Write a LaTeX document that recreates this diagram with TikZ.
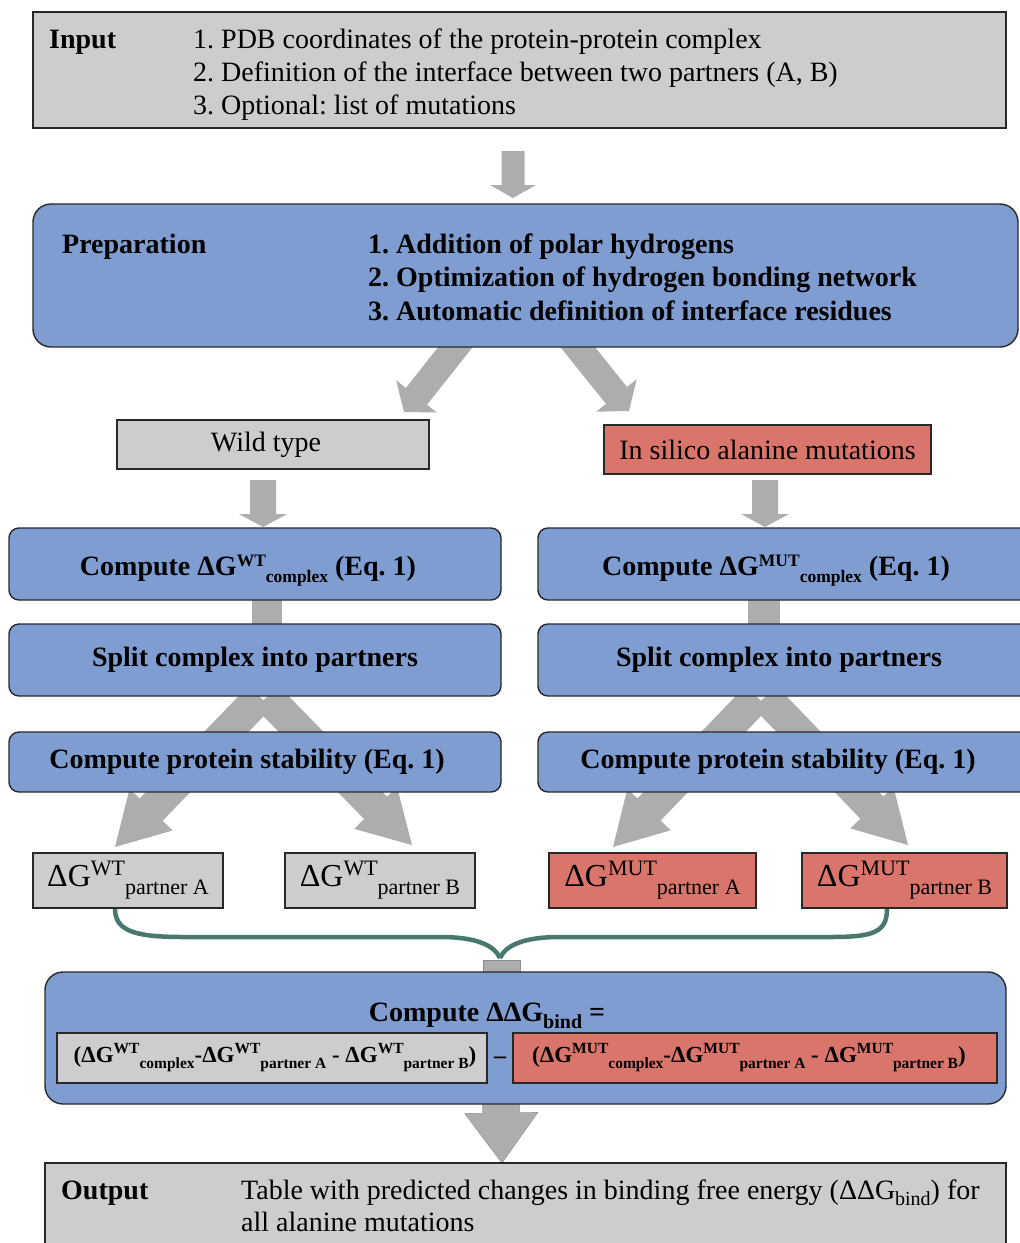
\documentclass[tikz,border=0pt]{standalone}
\usepackage{fontspec}
\setmainfont{Liberation Serif}
\usetikzlibrary{calc}
\frenchspacing
\definecolor{boxgray}{RGB}{205,205,205}
\definecolor{boxblue}{RGB}{127,157,209}
\definecolor{boxred}{RGB}{217,117,106}
\definecolor{arrgray}{RGB}{173,173,173}
\definecolor{linkteal}{RGB}{72,120,110}
\definecolor{edgecol}{RGB}{40,40,40}
\newcommand\fsz[1]{\fontsize{#1}{#1}\selectfont}
\newcommand\SupS[3]{\raisebox{#1pt}{\fsz{#2}#3}}
\newcommand\SubS[3]{\raisebox{-#1pt}{\fsz{#2}#3}}
% block arrow: [opts]{start}{end}{shaft half}{head half}{head length}
\newcommand\blockarrow[6][]{%
  \coordinate (ba-s) at (#2);
  \coordinate (ba-e) at (#3);
  \coordinate (ba-b) at ($(ba-e)!#6!(ba-s)$);
  \fill[arrgray,#1] ($(ba-s)!#4!90:(ba-e)$) -- ($(ba-b)!#4!-90:(ba-s)$) -- ($(ba-b)!#5!-90:(ba-s)$) -- (ba-e) -- ($(ba-b)!#5!90:(ba-s)$) -- ($(ba-b)!#4!90:(ba-s)$) -- ($(ba-s)!#4!-90:(ba-e)$) -- cycle;}
\tikzset{
  boxedge/.style={draw=edgecol, line width=1.4pt},
  graybox/.style={boxedge, fill=boxgray, inner sep=0pt, outer sep=0pt},
  redbox/.style={boxedge, fill=boxred, inner sep=0pt, outer sep=0pt},
  bluebox/.style={boxedge, fill=boxblue, rounded corners=10pt, inner sep=0pt, outer sep=0pt},
  bigblue/.style={bluebox, rounded corners=18pt},
  rtxt/.style={font=\fsz{28}, inner sep=0pt},
  btxt/.style={font=\fsz{28}\bfseries, inner sep=0pt},
  link/.style={draw=linkteal, line width=4.5pt},
  bar/.style={fill=arrgray},
}
\begin{document}
\begin{tikzpicture}[x=1pt,y=-1pt]
\useasboundingbox (0,0) rectangle (1020,1243);

% ---------- arrows behind boxes ----------
\coordinate (a1s) at (513,151); \coordinate (a1e) at (513,198);
\blockarrow{a1s}{a1e}{11.5pt}{23pt}{13pt}
\coordinate (a2s) at (469,330); \coordinate (a2e) at (404,412);
\blockarrow{a2s}{a2e}{13.5pt}{26pt}{20pt}
\coordinate (a3s) at (564,330); \coordinate (a3e) at (629,411);
\blockarrow{a3s}{a3e}{13.5pt}{26pt}{20pt}
\coordinate (a4s) at (263,480); \coordinate (a4e) at (263,527);
\blockarrow{a4s}{a4e}{13pt}{24pt}{13pt}
\coordinate (a5s) at (765,480); \coordinate (a5e) at (765,527);
\blockarrow{a5s}{a5e}{13pt}{24pt}{13pt}
\coordinate (l1s) at (260,697); \coordinate (l1e) at (115,847);
\blockarrow{l1s}{l1e}{16pt}{30pt}{52pt}
\coordinate (l2s) at (267,697); \coordinate (l2e) at (412,845);
\blockarrow{l2s}{l2e}{16pt}{30pt}{52pt}
\coordinate (l3s) at (757,697); \coordinate (l3e) at (613,847);
\blockarrow{l3s}{l3e}{16pt}{30pt}{52pt}
\coordinate (l4s) at (765,697); \coordinate (l4e) at (908,845);
\blockarrow{l4s}{l4e}{16pt}{30pt}{52pt}
\fill[bar] (252,598) rectangle (282,626);
\fill[bar] (748,598) rectangle (780,626);
\coordinate (a6s) at (501,1098); \coordinate (a6e) at (502,1163);
\blockarrow[draw=black!40, line width=0.6pt]{a6s}{a6e}{18.5pt}{36.5pt}{50pt}

% ---------- boxes ----------
\node[graybox, minimum width=973pt, minimum height=116pt] (input) at (519.5,70) {};
\node[btxt, anchor=base west] (inlab) at (49,48) {Input};
\node[rtxt, anchor=base west] (in1) at (193,48) {1. PDB coordinates of the protein-protein complex};
\node[rtxt, anchor=base west] (in2) at (193,81) {2. Definition of the interface between two partners (A, B)};
\node[rtxt, anchor=base west] (in3) at (193,114) {3. Optional: list of mutations};

\node[bigblue, minimum width=985pt, minimum height=143pt] (prep) at (525.5,275.5) {};
\node[btxt, anchor=base west] (preplab) at (62,253) {Preparation};
\node[btxt, anchor=base west] (p1) at (368,253) {1. Addition of polar hydrogens};
\node[btxt, anchor=base west] (p2) at (368,286) {2. Optimization of hydrogen bonding network};
\node[btxt, anchor=base west] (p3) at (368,320) {3. Automatic definition of interface residues};

\node[graybox, minimum width=312pt, minimum height=49pt, font=\fsz{28}] (wild) at (273,444.5) {\hspace*{-14pt}Wild type};
\node[redbox, minimum width=327pt, minimum height=49pt, font=\fsz{28}] (silico) at (767.5,449.5) {In silico alanine mutations};

\node[bluebox, minimum width=492pt, minimum height=72pt] (cwt) at (255,564) {};
\node[btxt, anchor=base] (cwtt) at (248,575) {Compute ΔG\SupS{9}{17.5}{WT}\SubS{7}{17.5}{complex} (Eq. 1)};
\node[bluebox, minimum width=494pt, minimum height=72pt] (cmut) at (785,564) {};
\node[btxt, anchor=base] (cmutt) at (776,575) {Compute ΔG\SupS{9}{17.5}{MUT}\SubS{7}{17.5}{complex} (Eq. 1)};

\node[bluebox, minimum width=492pt, minimum height=72pt, font=\fsz{28}\bfseries] (swt) at (255,660) {Split complex into partners};
\node[bluebox, minimum width=494pt, minimum height=72pt, font=\fsz{28}\bfseries] (smut) at (785,660) {\hspace*{-12pt}Split complex into partners};

\node[bluebox, minimum width=492pt, minimum height=60pt, font=\fsz{28}\bfseries] (stwt) at (255,762) {\hspace*{-16pt}Compute protein stability (Eq. 1)};
\node[bluebox, minimum width=494pt, minimum height=60pt, font=\fsz{28}\bfseries] (stmut) at (785,762) {\hspace*{-14pt}Compute protein stability (Eq. 1)};

\node[graybox, minimum width=190pt, minimum height=55pt, font=\fsz{32}] (wtA) at (128,880.5) {ΔG\SupS{11}{22}{WT}\SubS{8}{22}{partner A}};
\node[graybox, minimum width=190pt, minimum height=55pt, font=\fsz{32}] (wtB) at (380,880.5) {ΔG\SupS{11}{22}{WT}\SubS{8}{22}{partner B}};
\node[redbox, minimum width=207pt, minimum height=55pt, font=\fsz{32}] (mutA) at (652.5,880.5) {ΔG\SupS{11}{22}{MUT}\SubS{8}{22}{partner A}};
\node[redbox, minimum width=205pt, minimum height=55pt, font=\fsz{32}] (mutB) at (904.5,880.5) {ΔG\SupS{11}{22}{MUT}\SubS{8}{22}{partner B}};

% ---------- merge connector ----------
\coordinate (merge) at (500,958);
\draw[link] ($(wtA.south)+(-13,1)$) .. controls +(0,24) and (140,937) .. (185,937) -- (440,937) .. controls (476,937) and (494,945) .. (merge);
\draw[link] ($(mutB.south)+(-17.5,1)$) .. controls +(0,24) and (872,937) .. (830,937) -- (560,937) .. controls (524,937) and (506,945) .. (merge);
\node[fill=arrgray, draw=black!45, line width=0.6pt, minimum width=37pt, minimum height=12pt, inner sep=0pt] (stub) at (501.5,966) {};

% ---------- formula box ----------
\node[bigblue, minimum width=961pt, minimum height=132pt] (ddg) at (525.5,1038) {};
\node[btxt, anchor=base] (ddgt) at (487,1021) {Compute ΔΔG\SubS{7}{20}{bind} =};
\node[graybox, minimum width=430pt, minimum height=50pt, font=\fsz{23}\bfseries] (fwt) at (272,1058) {\hspace*{6pt}(ΔG\SupS{9}{15.5}{WT}\SubS{6}{15.5}{complex}-ΔG\SupS{9}{15.5}{WT}\SubS{6}{15.5}{partner A} - ΔG\SupS{9}{15.5}{WT}\SubS{6}{15.5}{partner B})};
\node[redbox, minimum width=484pt, minimum height=50pt, font=\fsz{23}\bfseries] (fmut) at (755,1058) {(ΔG\SupS{9}{15.5}{MUT}\SubS{6}{15.5}{complex}-ΔG\SupS{9}{15.5}{MUT}\SubS{6}{15.5}{partner A} - ΔG\SupS{9}{15.5}{MUT}\SubS{6}{15.5}{partner B})\hspace*{12pt}};
\node[font=\fsz{24}\bfseries, inner sep=0pt] (minus) at (500,1060) {–};

% ---------- output ----------
\node[graybox, minimum width=961pt, minimum height=97pt] (output) at (525.5,1211.5) {};
\node[btxt, anchor=base west] (outlab) at (61,1199) {Output};
\node[rtxt, anchor=base west] (out1) at (241,1199) {Table with predicted changes in binding free energy (ΔΔG\SubS{6}{20}{bind}) for};
\node[rtxt, anchor=base west] (out2) at (241,1231) {all alanine mutations};
\end{tikzpicture}
\end{document}
